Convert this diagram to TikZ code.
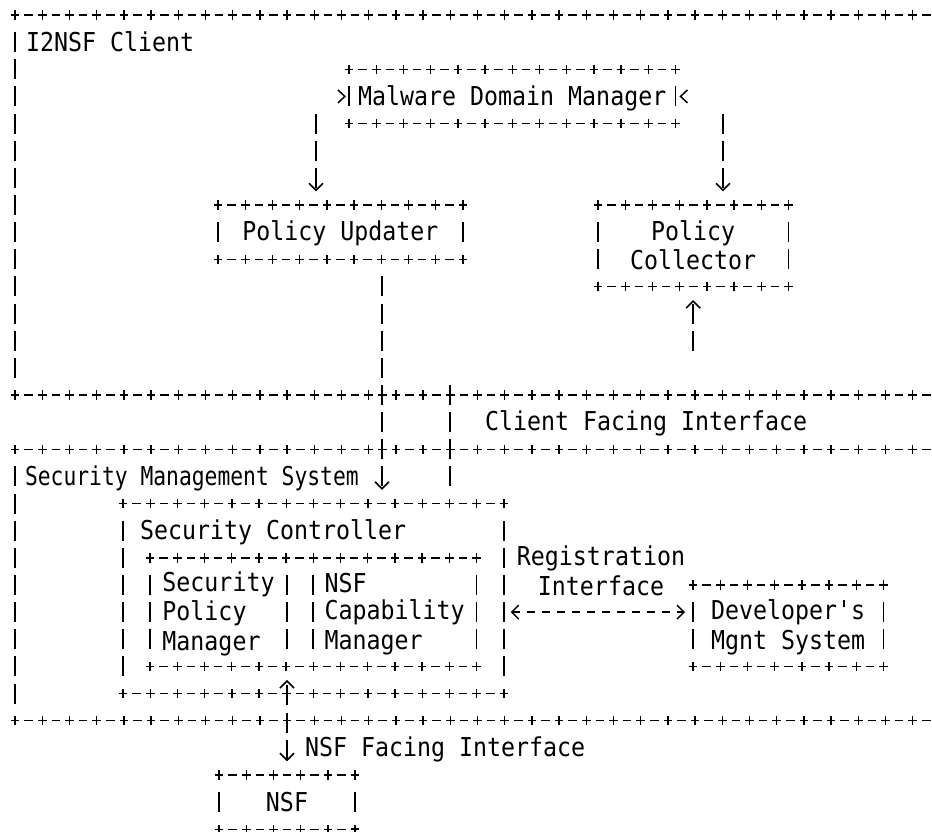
\documentclass[tikz,border=0pt]{standalone}
\usepackage{fontspec}
\usetikzlibrary{arrows.meta,calc}
\newfontfamily\asciifont[FakeStretch=0.895]{DejaVu Sans Mono}
\newfontfamily\asciinarrow[FakeStretch=0.82]{DejaVu Sans Mono}
% one text row: 27.14pt high, baseline 4.17pt above its foot
\newcommand\rowstrut{\rule[-4.17pt]{0pt}{27.14pt}}
\newcommand\rowfont{\fontsize{26pt}{27.14pt}\selectfont}

\tikzset{
  % "+-+-+" borders: short dashes plus a vertical tick every second cell
  hdash/.style={line width=1.4pt, dash pattern=on 8.6pt off 5pt,
    shorten <=-4.3pt, shorten >=-4.3pt},
  hticks/.style={line width=9.4pt, dash pattern=on 1.5pt off 25.7pt,
    dash phase=23.55pt, shorten <=-4.3pt, shorten >=-4.3pt},
  % "|" sides: one bar per text row
  vbar/.style={line width=1.6pt, dash pattern=on 20pt off 7.14pt,
    dash phase=23.57pt, shorten <=13.57pt, shorten >=13.57pt},
  plusarm/.style={line width=1.5pt},
  txt/.style={font=\asciifont\rowfont, inner sep=0pt, outer sep=0pt},
  txtnarrow/.style={font=\asciinarrow\rowfont, inner sep=0pt, outer sep=0pt},
  asciibox/.style={txt, draw=none, align=center},
  conn/.style={line width=1.6pt, dash pattern=on 20pt off 7.14pt, dash phase=23.57pt},
  reg/.style={line width=1.4pt, dash pattern=on 8pt off 7pt},
  chev/.style={line width=1.5pt, -{Straight Barb[length=7pt,width=13pt]}},
  >={Straight Barb[length=7pt,width=14pt]},
}

\newcommand\asciihline[2]{\draw[hdash] (#1) -- (#2); \draw[hticks] (#1) -- (#2);}
\newcommand\asciivline[2]{\draw[vbar] (#1) -- (#2);}
\newcommand\plusat[1]{\draw[plusarm] ([yshift=4.7pt]#1) -- ([yshift=-4.7pt]#1)
  ([xshift=-4.3pt]#1) -- ([xshift=4.3pt]#1);}
\newcommand\boxborder[1]{%
  \asciihline{#1.north west}{#1.north east}%
  \asciihline{#1.south west}{#1.south east}%
  \asciivline{#1.north west}{#1.south west}%
  \asciivline{#1.north east}{#1.south east}%
  \plusat{#1.north east}\plusat{#1.south east}}
\newcommand\regionborder[1]{%
  \asciihline{#1.north west}{#1.north east}%
  \asciihline{#1.south west}{#1.south east}%
  \asciivline{#1.north west}{#1.south west}}
\newcommand\sidesonly[1]{%
  \asciivline{#1.north west}{#1.south west}%
  \asciivline{#1.north east}{#1.south east}}

\begin{document}
\begin{tikzpicture}[x=1pt, y=-27.14pt]
\fill[white] (0pt,0pt) rectangle (932pt,-832pt);
\useasboundingbox (0pt,0pt) rectangle (932pt,-832pt);
\begin{scope}[yshift=-15pt]
  % outer regions
  \node[draw=none, inner sep=0pt, outer sep=0pt, minimum width=935pt, minimum height=379.96pt] (client) at (482.5,7) {};
  \node[draw=none, inner sep=0pt, outer sep=0pt, minimum width=935pt, minimum height=271.4pt] (sms) at (482.5,21) {};
  \regionborder{client}
  \regionborder{sms}
  \node[txt, anchor=west] (clientlbl) at (26,1) {\rowstrut I2NSF Client};
  \node[txtnarrow, anchor=west] (smslbl) at (25,17) {\rowstrut Security Management System};
  \node[txt, anchor=west] (cfi) at (485,15) {\rowstrut Client Facing Interface};
  \node[txt, anchor=west] (nfi) at (305,27) {\rowstrut NSF Facing Interface};

  % I2NSF client components
  \node[asciibox, minimum width=326.4pt, minimum height=54.28pt] (mdm) at (512.2,3) {\rowstrut Malware Domain Manager};
  \node[asciibox, minimum width=244.8pt, minimum height=54.28pt] (pu) at (340.4,8) {\rowstrut Policy Updater};
  \node[asciibox, minimum width=190.4pt, minimum height=81.42pt] (pc) at (693.2,8.5) {\rowstrut Policy\\\rowstrut Collector};
  \boxborder{mdm}
  \boxborder{pu}
  \boxborder{pc}

  % security management system components
  \node[asciibox, minimum width=380.8pt, minimum height=189.98pt] (sc) at (313.4,21.5) {};
  \boxborder{sc}
  \node[txt, anchor=west] (sclbl) at (140,19) {\rowstrut Security Controller};
  \node[asciibox, align=left, minimum width=137pt, minimum height=108.56pt] (spm) at (218.5,22)
    {\rowstrut Security\\\rowstrut Policy\\\rowstrut Manager};
  \node[asciibox, align=left, minimum width=163.4pt, minimum height=108.56pt] (ncm) at (394.7,22)
    {\rowstrut NSF\\\rowstrut Capability\\\rowstrut Manager};
  \asciihline{spm.north west}{ncm.north east}
  \asciihline{spm.south west}{ncm.south east}
  \sidesonly{spm}
  \sidesonly{ncm}

  \node[asciibox, minimum width=190.4pt, minimum height=81.42pt] (dev) at (788.2,22.5)
    {\rowstrut Developer's\\\rowstrut Mgnt System};
  \boxborder{dev}
  \node[asciibox, minimum width=136pt, minimum height=54.28pt] (nsf) at (287,29) {\rowstrut NSF};
  \boxborder{nsf}
  \node[txt, align=center] (reglbl) at (601,20.5) {\rowstrut Registration\\\rowstrut Interface};

  % connectors
  \coordinate (mdmL) at (316,3.5);
  \coordinate (mdmR) at (723,3.5);
  \draw[conn,->,shorten >=13.57pt] (mdmL) -- (mdmL |- pu.north);
  \draw[conn,->,shorten >=13.57pt] (mdmR) -- (mdmR |- pc.north);
  \draw[chev] ([xshift=-4pt]mdm.west) -- ([xshift=-3pt]mdm.west);
  \draw[chev] ([xshift=5pt]mdm.east) -- ([xshift=4pt]mdm.east);

  \coordinate (puOut) at ([xshift=41.6pt]pu.south);
  \draw[conn,->,shorten <=13.57pt,shorten >=13.57pt] (puOut) -- (puOut |- sc.north);

  \coordinate (cfTop) at (450,13.5);
  \coordinate (cfBot) at (450,17.5);
  \draw[conn] (cfTop) -- (cfBot);

  \coordinate (pcIn) at ([yshift=-67.85pt]pc.south);
  \draw[conn,->,shorten >=13.57pt] (pcIn) -- (pc.south);

  \coordinate (scNsf) at (sc.south -| nsf.north);
  \draw[conn,<->,shorten <=-13.57pt,shorten >=13.57pt] (scNsf) -- (nsf.north);

  \coordinate (regR) at ([yshift=-27.14pt]dev.north west);
  \coordinate (regL) at (sc.east |- regR);
  \draw[reg,<->,shorten <=7pt,shorten >=8pt] (regL) -- (regR);
\end{scope}
\end{tikzpicture}
\end{document}
